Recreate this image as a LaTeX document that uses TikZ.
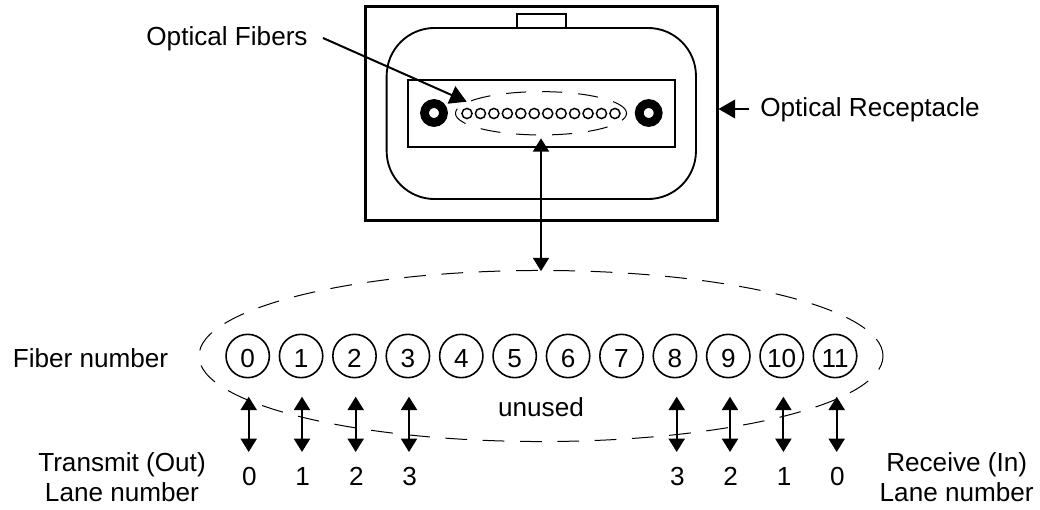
\documentclass[tikz,border=0pt]{standalone}
\usepackage{fontspec}
\setmainfont{Liberation Sans}
\usetikzlibrary{arrows.meta,shapes.geometric,calc}
\tikzset{
  px/.style={x=0.75pt,y=-0.75pt},
  lab/.style={inner sep=0pt,align=center,font=\fontsize{19.6}{22.5}\selectfont},
  fiberbig/.style={circle,draw,line width=1.2pt,minimum size=32.5pt,inner sep=0pt,outer sep=0pt,text height=16.5pt,text depth=0pt,font=\fontsize{19.6}{22.5}\selectfont},
  fibersmall/.style={circle,draw,line width=1.1pt,minimum size=7.6pt,inner sep=0pt,outer sep=0pt},
  bolt/.style={circle,draw,line width=6.6pt,minimum size=14.2pt,inner sep=0pt,outer sep=0pt},
  boxline/.style={rectangle,draw,inner sep=0pt,outer sep=0pt},
  dashell/.style={ellipse,draw,inner sep=0pt,outer sep=0pt,line width=0.75pt},
  leader/.style={line width=1.5pt,-{Triangle[length=12.5pt,width=14pt]}},
  vert/.style={line width=1.5pt,{Triangle[length=10pt,width=12pt]}-{Triangle[length=10pt,width=12pt]}},
}
\begin{document}
\begin{tikzpicture}[px]
\useasboundingbox (0,0) rectangle (1040,510);
% receptacle
\node[boxline,line width=2.1pt,minimum width=264pt,minimum height=160pt] (outer) at (541.5,113.5) {};
\node[boxline,line width=1.4pt,rounded corners=36pt,minimum width=232pt,minimum height=128.3pt] (shell) at (541.3,113.5) {};
\node[boxline,line width=1.4pt,minimum width=200.2pt,minimum height=50pt] (plate) at (541.5,113.3) {};
\node[boxline,line width=1.4pt,minimum width=36.7pt,minimum height=10.5pt] (tab) at (541.5,21) {};
\node[bolt] (boltl) at (434,113) {};
\node[bolt] (boltr) at (648.7,113) {};
\foreach \i in {0,...,11} {
  \node[fibersmall] (s\i) at ({467+13.45*\i},113.5) {};
}
\node[dashell,minimum width=128.3pt,minimum height=32.5pt,dash pattern=on 15pt off 12pt,dash phase=1pt] (ellsmall) at (541,113.3) {};
% big ring
\node[dashell,minimum width=513pt,minimum height=128.3pt,dash pattern=on 16.3pt off 11.7pt,dash phase=2.5pt] (ellbig) at (541,356) {};
\foreach \i in {0,...,11} {
  \node[fiberbig] (f\i) at ({247.7+53.4*\i},356) {\i};
}
% labels
\node[lab] (lfib) at (227,39) {Optical Fibers};
\node[lab] (lrec) at (870,110) {Optical Receptacle};
\node[lab] (lnum) at (90.5,358) {Fiber number};
\node[lab] (lunused) at (541,407) {unused};
\node[lab] (ltx) at (122,477) {Transmit (Out)\\Lane number};
\node[lab] (lrx) at (956.7,477.5) {Receive (In)\\Lane number};
% lane rows
\foreach \x/\n/\t in {248.7/a/0,302/b/1,355.7/c/2,409/d/3,676.7/e/3,730/f/2,783.4/g/1,836.7/h/0} {
  \coordinate (top\n) at (\x,396.7);
  \coordinate (bot\n) at (\x,452);
  \draw[vert] (top\n) -- (bot\n);
  \node[lab] (lane\n) at (\x+0.7,476.7) {\t};
}
% leaders
\coordinate (fibtail) at (323,38);
\coordinate (fibtip) at (466.7,101.7);
\draw[leader] (fibtail) -- (fibtip);
\coordinate (rectail) at (749,109);
\coordinate (rectip) at (718.5,109);
\draw[leader] (rectail) -- (rectip);
\draw[vert] ([yshift=-2.5pt]ellsmall.south) -- ([yshift=-0.5pt]ellbig.north);
\end{tikzpicture}
\end{document}
